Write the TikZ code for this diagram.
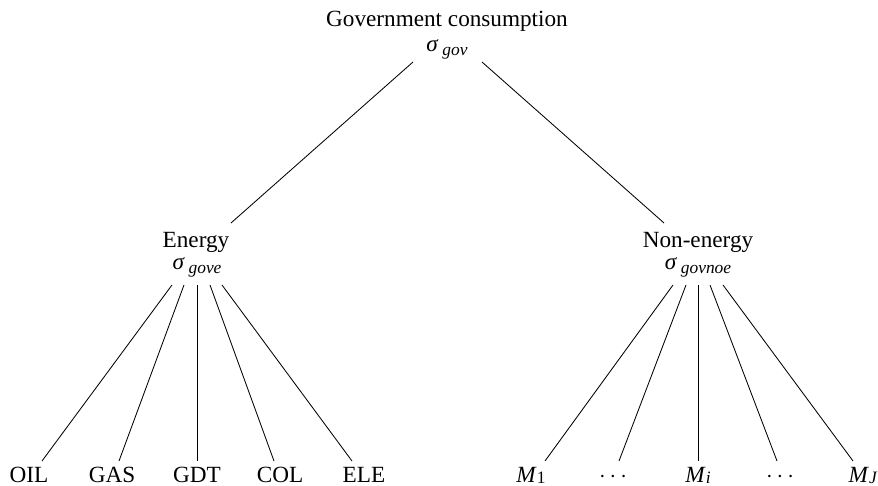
\documentclass[tikz,border=0pt]{standalone}
\usepackage{fontspec}
\setmainfont{Liberation Serif}
% sigma with an italic subscript, e.g. \sigsub{gov}
\newcommand\sigsub[1]{\textit{σ}\,\raisebox{-0.3ex}{\fontsize{8.7}{10}\selectfont\textit{#1}}}
% M with a subscript
\newcommand\msub[1]{\textit{M}\raisebox{-0.1ex}{\fontsize{8.7}{10}\selectfont #1}}
\begin{document}
\begin{tikzpicture}[x=0.5pt,y=-0.5pt,
  lbl/.style={inner sep=0pt, anchor=base, font=\fontsize{11.6}{14}\selectfont},
  leaf/.style={lbl, text depth=0pt},
  edge/.style={line width=0.42pt, black}]
\useasboundingbox (0,0) rectangle (878,486);

% top level
\node[lbl] (gov)  at (447,27) {Government consumption};
\node[lbl] (govs) at (447,52) {\sigsub{gov}};

% second level
\node[lbl] (en)  at (196,248) {Energy};
\node[lbl] (ens) at (197,270) {\sigsub{gove}};
\node[lbl] (ne)  at (698,248) {Non-energy};
\node[lbl] (nes) at (698,270) {\sigsub{govnoe}};

% energy goods
\node[leaf] (oil) at (29,482)  {OIL};
\node[leaf] (gas) at (112,482) {GAS};
\node[leaf] (gdt) at (197,482) {GDT};
\node[leaf] (col) at (280,482) {COL};
\node[leaf] (ele) at (364,482) {ELE};

% non-energy goods
\node[leaf] (m1) at (531,482) {\msub{1}};
\node[leaf] (d1) at (613,482) {$\cdots$};
\node[leaf] (mi) at (698,482) {\msub{\textit{i}}};
\node[leaf] (d2) at (780,482) {$\cdots$};
\node[leaf] (mj) at (863,482) {\msub{\textit{J}}};

% branches from the top
\draw[edge] ([shift={(-34,10)}]govs.base) -- ([shift={(35,-25)}]en.base);
\draw[edge] ([shift={(35,10)}]govs.base) -- ([shift={(-34,-25)}]ne.base);

% energy branches
\draw[edge] ([shift={(-25,15)}]ens.base) -- ([shift={(13,-21)}]oil.base);
\draw[edge] ([shift={(-13,15)}]ens.base) -- ([shift={(7,-21)}]gas.base);
\draw[edge] ([shift={(0,15)}]ens.base)   -- ([shift={(0,-21)}]gdt.base);
\draw[edge] ([shift={(13,15)}]ens.base)  -- ([shift={(-6,-21)}]col.base);
\draw[edge] ([shift={(25,15)}]ens.base)  -- ([shift={(-12,-21)}]ele.base);

% non-energy branches
\draw[edge] ([shift={(-25,15)}]nes.base) -- ([shift={(14,-21)}]m1.base);
\draw[edge] ([shift={(-12,15)}]nes.base) -- ([shift={(6,-21)}]d1.base);
\draw[edge] ([shift={(0,15)}]nes.base)   -- ([shift={(0,-21)}]mi.base);
\draw[edge] ([shift={(12,15)}]nes.base)  -- ([shift={(-3,-21)}]d2.base);
\draw[edge] ([shift={(25,15)}]nes.base)  -- ([shift={(-10,-21)}]mj.base);
\end{tikzpicture}
\end{document}
